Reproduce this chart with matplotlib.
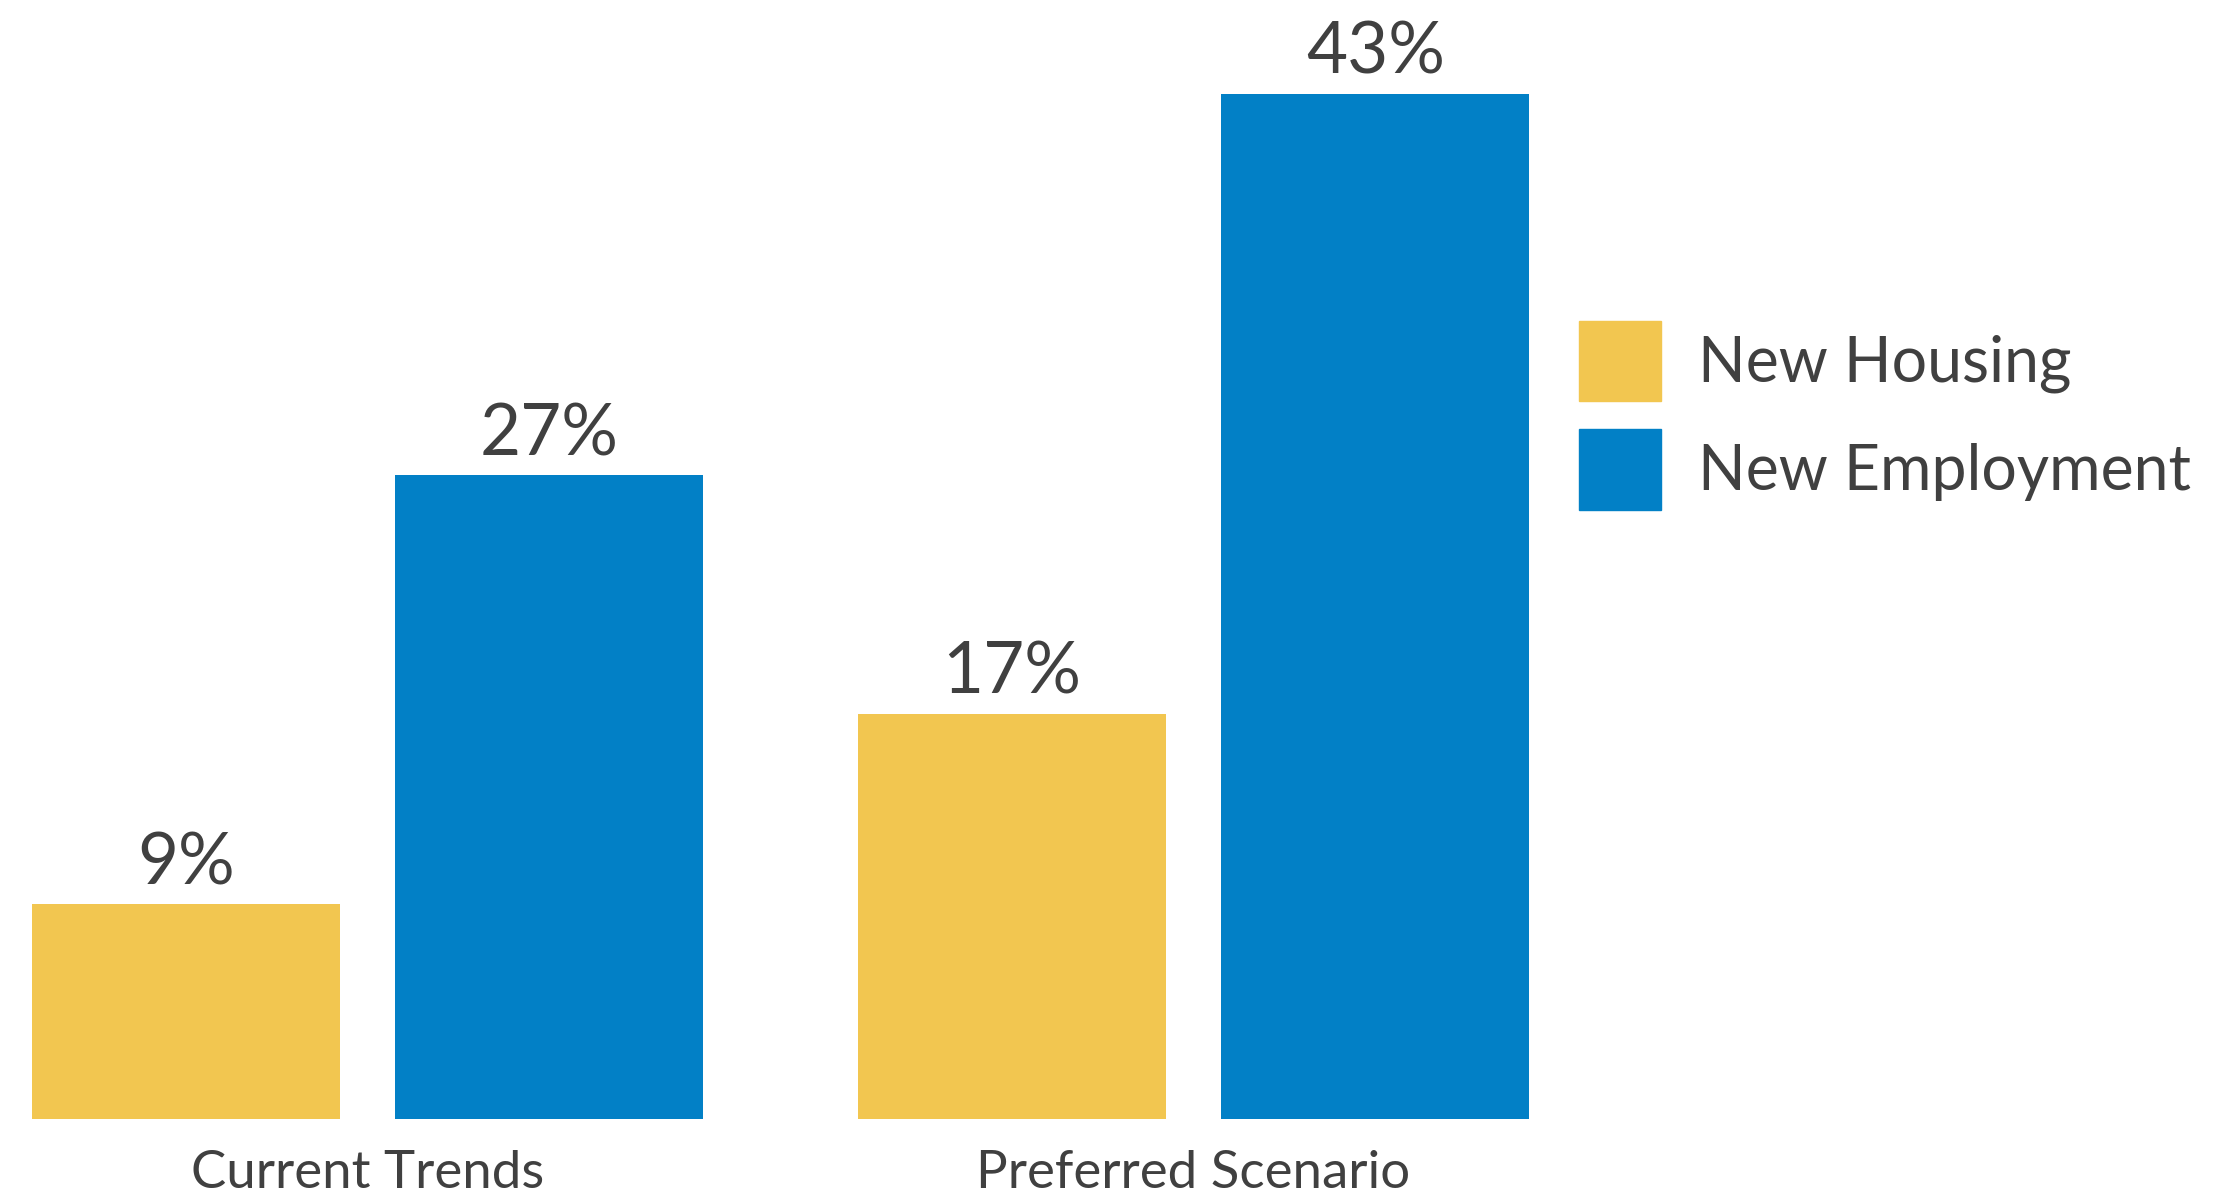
#!/usr/bin/env python3
"""
Share of new housing and new employment: current trends vs preferred scenario.
"""
import numpy as np
import matplotlib
matplotlib.use('Agg')
import matplotlib.pyplot as plt
from matplotlib.patches import Patch

groups = ['Current Trends', 'Preferred Scenario']
series = ['New Housing', 'New Employment']
housing = [9, 17]
employment = [27, 43]
labels_housing = ['9%', '17%']
labels_employment = ['27%', '43%']

YELLOW = '#F2C650'
BLUE = '#0280C6'
TEXT = '#404040'

plt.rcParams['font.family'] = ['Lato', 'DejaVu Sans']

W, H = 2235, 1204
fig = plt.figure(figsize=(W / 100, H / 100), dpi=100)
ax = fig.add_axes([0, 85 / H, 1, 1 - 85 / H])

x = np.arange(len(groups))
width = 0.373
off = 0.22
b1 = ax.bar(x - off, housing, width, color=YELLOW, label=series[0])
b2 = ax.bar(x + off, employment, width, color=BLUE, label=series[1])
ax.bar_label(b1, labels=labels_housing, padding=6, fontsize=51, color=TEXT)
ax.bar_label(b2, labels=labels_employment, padding=6, fontsize=51, color=TEXT)

ax.set_xlim(-0.445, 2.261)
ax.set_ylim(0, 46.94)
ax.set_xticks(x)
ax.set_xticklabels(groups, fontsize=38, color=TEXT)
ax.tick_params(axis='x', length=0, pad=22)
ax.set_yticks([])
for s in ax.spines.values():
    s.set_visible(False)

handles = [Patch(color=YELLOW), Patch(color=BLUE)]
ax.legend(handles, series, loc='upper left',
          bbox_to_anchor=(1579 / W, 1 - 321 / H), bbox_transform=fig.transFigure,
          frameon=False, fontsize=45, labelcolor=TEXT, borderpad=0, borderaxespad=0,
          handlelength=82 / 62.5, handleheight=1.6, handletextpad=0.6,
          labelspacing=0.45)

fig.savefig('out.png', dpi=100)
plt.close(fig)
